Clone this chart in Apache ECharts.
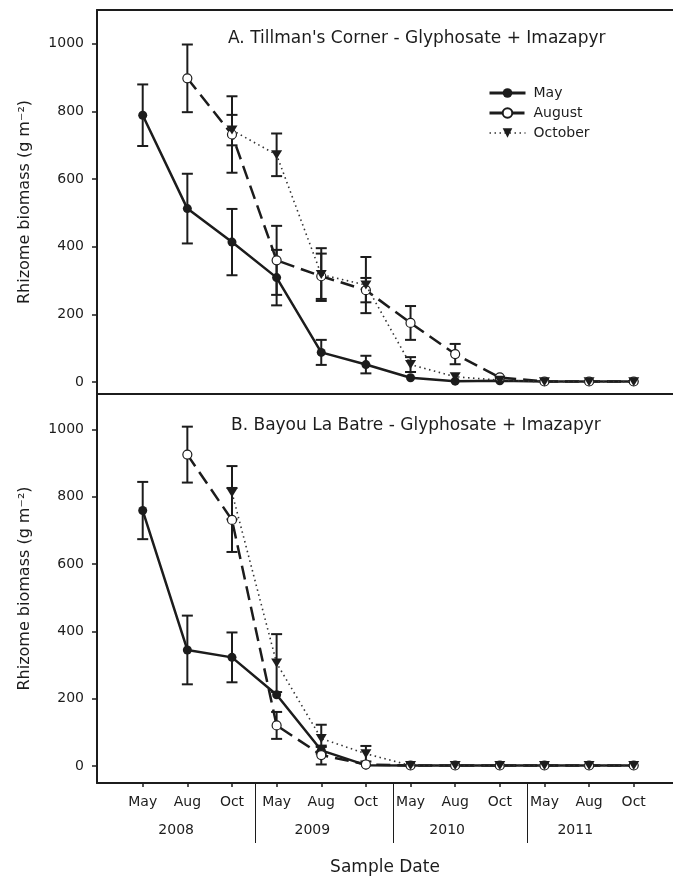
<!DOCTYPE html>
<html>
<head>
<meta charset="utf-8">
<script src="https://cdn.jsdelivr.net/npm/echarts@6/dist/echarts.min.js"></script>
<style>
html, body { margin: 0; padding: 0; background: #fff; }
#chart { width: 673px; height: 877px; }
</style>
</head>
<body>
<div id="chart"></div>
<script>
// tick labels
const months = ['May', 'Aug', 'Oct', 'May', 'Aug', 'Oct', 'May', 'Aug', 'Oct', 'May', 'Aug', 'Oct'];
const years = ['2008', '2009', '2010', '2011'];
const yTicks = [0, 200, 400, 600, 800, 1000];
const names = ['May', 'August', 'October'];
const titleA = "A. Tillman's Corner - Glyphosate + Imazapyr";
const titleB = 'B. Bayou La Batre - Glyphosate + Imazapyr';

// A. Tillman's Corner (g m-2), one value per sample date, null = not sampled yet
const mayA    = [789, 513, 414, 309, 88, 52, 13, 3, 4, 2, 2, 2];
const mayAErr = [91, 103, 98, 82, 37, 26, 0, 0, 0, 0, 0, 0];
const augA    = [null, 898, 732, 360, 313, 272, 175, 83, 14, 2, 2, 2];
const augAErr = [0, 100, 113, 102, 67, 36, 50, 30, 0, 0, 0, 0];
const octA    = [null, null, 745, 672, 318, 287, 52, 16, 6, 1, 1, 1];
const octAErr = [0, 0, 45, 63, 78, 83, 22, 0, 0, 0, 0, 0];

// B. Bayou La Batre
const mayB    = [759, 345, 323, 212, 47, 3, 2, 2, 2, 2, 2, 2];
const mayBErr = [85, 102, 74, 0, 10, 0, 0, 0, 0, 0, 0, 0];
const augB    = [null, 925, 731, 121, 33, 5, 2, 2, 2, 2, 2, 2];
const augBErr = [0, 83, 95, 40, 28, 0, 0, 0, 0, 0, 0, 0];
const octB    = [null, null, 812, 306, 82, 37, 2, 2, 2, 2, 2, 2];
const octBErr = [0, 0, 79, 86, 41, 23, 0, 0, 0, 0, 0, 0];

// layout (axis units on the sample index scale)
const X_MIN = -1.024, X_MAX = 11.88;
const yearLabelAt = [0.75, 3.8, 6.82, 9.69];
const yearBreakAt = [2.53, 5.61, 8.61];

const FONT = 'DejaVu Sans';
const INK = '#1c1c1c';
const monthTicks = months.map((m, i) => i);

function pts(vals) {
  return vals.map((v, i) => [i, v]).filter(p => p[1] != null);
}

function errorBars(xi, yi, vals, errs) {
  const data = [];
  vals.forEach((v, i) => {
    if (v != null && errs[i] > 0) data.push([i, v - errs[i], v + errs[i]]);
  });
  return {
    type: 'custom',
    xAxisIndex: xi,
    yAxisIndex: yi,
    silent: true,
    z: 1,
    encode: { x: 0, y: [1, 2] },
    data: data,
    renderItem: function (params, api) {
      const lo = api.coord([api.value(0), api.value(1)]);
      const hi = api.coord([api.value(0), api.value(2)]);
      const w = 5.5;
      const st = { stroke: INK, lineWidth: 2 };
      return {
        type: 'group',
        children: [
          { type: 'line', shape: { x1: lo[0], y1: lo[1], x2: hi[0], y2: hi[1] }, style: st },
          { type: 'line', shape: { x1: lo[0] - w, y1: lo[1], x2: lo[0] + w, y2: lo[1] }, style: st },
          { type: 'line', shape: { x1: hi[0] - w, y1: hi[1], x2: hi[0] + w, y2: hi[1] }, style: st }
        ]
      };
    }
  };
}

function lines(xi, yi, may, aug, oct) {
  return [
    {
      name: names[0], type: 'line', xAxisIndex: xi, yAxisIndex: yi, z: 3,
      data: pts(may), symbol: 'circle', symbolSize: 9,
      itemStyle: { color: INK },
      lineStyle: { color: INK, width: 2.5 }
    },
    {
      name: names[1], type: 'line', xAxisIndex: xi, yAxisIndex: yi, z: 4,
      data: pts(aug), symbol: 'circle', symbolSize: 9,
      itemStyle: { color: '#fff', borderColor: INK, borderWidth: 1.2 },
      lineStyle: { color: INK, width: 2.5, type: [14, 7] }
    },
    {
      name: names[2], type: 'line', xAxisIndex: xi, yAxisIndex: yi, z: 5,
      data: pts(oct), symbol: 'triangle', symbolRotate: 180, symbolSize: [11, 9],
      itemStyle: { color: INK },
      lineStyle: { color: '#333', width: 1.6, type: [1.5, 3.5] }
    }
  ];
}

const axisLine = { show: true, onZero: false, lineStyle: { color: INK, width: 2 } };
const lbl = { fontFamily: FONT, fontSize: 14, color: INK };

function yAxis(grid, min, max) {
  return {
    type: 'value', gridIndex: grid, min: min, max: max,
    name: 'Rhizome biomass (g m\u207B\u00B2)',
    nameLocation: 'middle', nameGap: 64,
    nameTextStyle: { fontFamily: FONT, fontSize: 16, color: INK },
    axisLine: axisLine,
    axisTick: { show: true, length: 5, customValues: yTicks, lineStyle: { color: INK, width: 1.5 } },
    axisLabel: Object.assign({ margin: 13, customValues: yTicks, formatter: v => String(v) }, lbl),
    splitLine: { show: false }
  };
}

const chart = echarts.init(document.getElementById('chart'), null, { renderer: 'canvas' });

chart.setOption({
  animation: false,
  backgroundColor: '#fff',
  title: [
    { text: titleA, left: 228, top: 30, padding: 0,
      textStyle: { fontFamily: FONT, fontSize: 17, fontWeight: 'normal', color: INK } },
    { text: titleB, left: 231, top: 417, padding: 0,
      textStyle: { fontFamily: FONT, fontSize: 17, fontWeight: 'normal', color: INK } }
  ],
  legend: {
    data: [
      { name: names[0], lineStyle: { width: 3 } },
      { name: names[1], lineStyle: { width: 3 } },
      { name: names[2], lineStyle: { width: 1.5 } }
    ],
    orient: 'vertical', left: 488, top: 86, padding: 0,
    itemWidth: 36, itemHeight: 12, itemGap: 6,
    textStyle: { fontFamily: FONT, fontSize: 14, color: INK, padding: [0, 0, 0, 3] }
  },
  grid: [
    { left: 97, right: 0, top: 10, height: 384 },
    { left: 97, right: 0, top: 394, bottom: 92 }
  ],
  xAxis: [
    { type: 'value', gridIndex: 0, min: X_MIN, max: X_MAX, position: 'bottom',
      axisLine: axisLine, axisTick: { show: false }, axisLabel: { show: false }, splitLine: { show: false } },
    { type: 'value', gridIndex: 0, min: X_MIN, max: X_MAX, position: 'top',
      axisLine: axisLine, axisTick: { show: false }, axisLabel: { show: false }, splitLine: { show: false } },
    { type: 'value', gridIndex: 1, min: X_MIN, max: X_MAX, position: 'bottom',
      name: 'Sample Date', nameLocation: 'middle', nameGap: 76,
      nameTextStyle: { fontFamily: FONT, fontSize: 17, color: INK },
      axisLine: axisLine,
      axisTick: { show: true, length: 4, customValues: monthTicks, lineStyle: { color: INK, width: 1.5 } },
      axisLabel: Object.assign({
        margin: 12, customValues: monthTicks,
        formatter: v => months[Math.round(v)]
      }, lbl),
      splitLine: { show: false } },
    { type: 'value', gridIndex: 1, min: X_MIN, max: X_MAX, position: 'bottom',
      axisLine: { show: false, onZero: false },
      axisTick: { show: true, length: 60, customValues: yearBreakAt, lineStyle: { color: INK, width: 1 } },
      axisLabel: Object.assign({
        margin: 40, customValues: yearLabelAt,
        formatter: v => years[yearLabelAt.indexOf(v)]
      }, lbl),
      splitLine: { show: false } }
  ],
  yAxis: [yAxis(0, -35, 1100), yAxis(1, -50, 1105)],
  series: [
    errorBars(0, 0, mayA, mayAErr),
    errorBars(0, 0, augA, augAErr),
    errorBars(0, 0, octA, octAErr),
    errorBars(2, 1, mayB, mayBErr),
    errorBars(2, 1, augB, augBErr),
    errorBars(2, 1, octB, octBErr)
  ].concat(lines(0, 0, mayA, augA, octA), lines(2, 1, mayB, augB, octB))
});
</script>
</body>
</html>
